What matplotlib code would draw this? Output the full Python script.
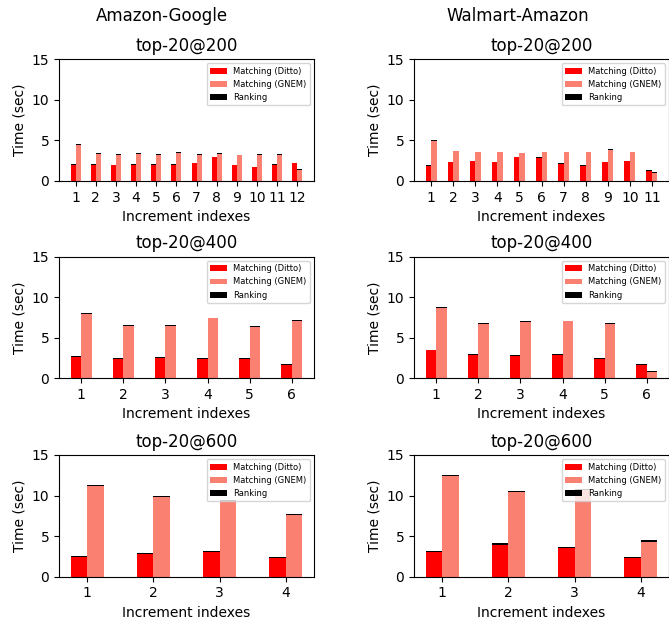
import matplotlib
matplotlib.use("Agg")
import matplotlib.pyplot as plt
import numpy as np

# total bar heights (matching + ranking)
AG200_DITTO = [2.07, 2.07, 2.00, 2.07, 2.07, 2.07, 2.24, 2.98, 2.00, 1.74, 2.07, 2.24]
AG200_GNEM = [4.56, 3.40, 3.27, 3.40, 3.27, 3.52, 3.27, 3.40, 3.19, 3.27, 3.27, 1.45]
AG200_RANK = [0.12, 0.10, 0.05, 0.10, 0.08, 0.10, 0.10, 0.10, 0.05, 0.08, 0.08, 0.10]

WA200_DITTO = [1.95, 2.36, 2.49, 2.36, 2.98, 2.90, 2.20, 1.95, 2.36, 2.49, 1.33]
WA200_GNEM = [5.06, 3.73, 3.60, 3.60, 3.48, 3.60, 3.60, 3.60, 3.90, 3.60, 1.04]
WA200_RANK = [0.12, 0.10, 0.10, 0.08, 0.08, 0.10, 0.08, 0.10, 0.10, 0.10, 0.08]

AG400_DITTO = [2.75, 2.47, 2.59, 2.47, 2.50, 1.73]
AG400_GNEM = [8.10, 6.58, 6.58, 7.48, 6.50, 7.23]
AG400_RANK = [0.12, 0.10, 0.10, 0.05, 0.12, 0.12]

WA400_DITTO = [3.49, 3.00, 2.88, 3.00, 2.50, 1.73]
WA400_GNEM = [8.75, 6.78, 7.11, 7.11, 6.78, 0.90]
WA400_RANK = [0.05, 0.10, 0.12, 0.10, 0.12, 0.12]

AG600_DITTO = [2.57, 2.94, 3.19, 2.45]
AG600_GNEM = [11.32, 9.93, 9.48, 7.72]
AG600_RANK = [0.20, 0.15, 0.15, 0.15]

WA600_DITTO = [3.19, 4.09, 3.68, 2.45]
WA600_GNEM = [12.50, 10.58, 10.83, 4.45]
WA600_RANK = [0.15, 0.15, 0.15, 0.15]

COLUMNS = ["Amazon-Google", "Walmart-Amazon"]
ROW_TITLES = ["top-20@200", "top-20@400", "top-20@600"]
PANELS = [
    [(AG200_DITTO, AG200_GNEM, AG200_RANK), (WA200_DITTO, WA200_GNEM, WA200_RANK)],
    [(AG400_DITTO, AG400_GNEM, AG400_RANK), (WA400_DITTO, WA400_GNEM, WA400_RANK)],
    [(AG600_DITTO, AG600_GNEM, AG600_RANK), (WA600_DITTO, WA600_GNEM, WA600_RANK)],
]

W, H = 669, 626
LEFTS = [59, 414]
AX_W = 255
TOPS = [59.3, 256.7, 455.0]
AX_H = 121.5
BAR_W = 0.25


def draw_panel(ax, ditto, gnem, rank, title):
    ditto = np.array(ditto)
    gnem = np.array(gnem)
    rank = np.array(rank)
    x = np.arange(1, len(ditto) + 1)
    ax.bar(x - BAR_W / 2, ditto - rank, BAR_W, color='red', label='Matching (Ditto)')
    ax.bar(x + BAR_W / 2, gnem - rank, BAR_W, color='salmon', label='Matching (GNEM)')
    ax.bar(x - BAR_W / 2, rank, BAR_W, bottom=ditto - rank, color='black', label='Ranking')
    ax.bar(x + BAR_W / 2, rank, BAR_W, bottom=gnem - rank, color='black')
    ax.set_xticks(x)
    ax.set_ylim(0, 15)
    ax.set_yticks([0, 5, 10, 15])
    ax.set_title(title, fontsize=12)
    ax.set_ylabel('Time (sec)', fontsize=10)
    ax.set_xlabel('Increment indexes', fontsize=10)
    ax.tick_params(labelsize=10)
    ax.legend(loc='upper right', fontsize=6)


fig = plt.figure(figsize=(W / 100, H / 100), dpi=100)
for r in range(3):
    for c in range(2):
        ax = fig.add_axes([LEFTS[c] / W, 1 - (TOPS[r] + AX_H) / H, AX_W / W, AX_H / H])
        ditto, gnem, rank = PANELS[r][c]
        draw_panel(ax, ditto, gnem, rank, ROW_TITLES[r])

fig.text(162 / W, 1 - 16 / H, COLUMNS[0], fontsize=12, ha='center', va='center')
fig.text(518 / W, 1 - 16 / H, COLUMNS[1], fontsize=12, ha='center', va='center')

fig.savefig("out.png", dpi=100)
